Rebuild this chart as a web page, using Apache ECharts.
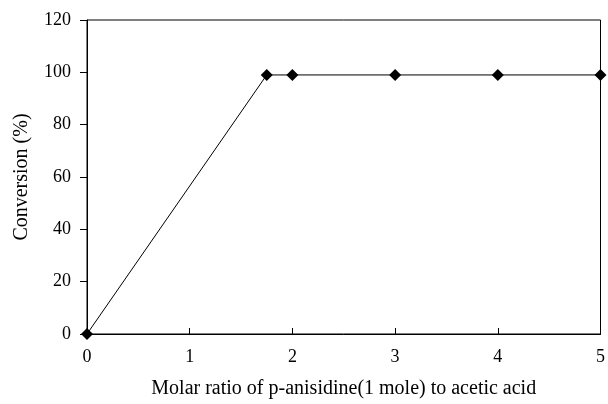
<!DOCTYPE html>
<html><head><meta charset="utf-8">
<script src="https://cdn.jsdelivr.net/npm/echarts@6/dist/echarts.min.js"></script>
<style>html,body{margin:0;padding:0;background:#fff}#c{width:608px;height:404px}</style>
</head><body><div id="c"></div>
<script>
const xValues = [0, 1.75, 2, 3, 4, 5];
const conversion = [0, 99, 99, 99, 99, 99];
const xTicks = [0, 1, 2, 3, 4, 5];
const yTicks = [0, 20, 40, 60, 80, 100, 120];
const xTitle = 'Molar ratio of p-anisidine(1 mole) to acetic acid';
const yTitle = 'Conversion (%)';

const font = 'Liberation Serif';
const chart = echarts.init(document.getElementById('c'), null, {renderer: 'canvas'});
chart.setOption({
  animation: false,
  backgroundColor: '#fff',
  grid: {left: 87, right: 4, top: 20, bottom: 65, show: true, borderColor: '#000', borderWidth: 1},
  xAxis: {
    type: 'value', min: xTicks[0], max: xTicks[xTicks.length - 1], interval: 1,
    name: xTitle, nameLocation: 'middle', nameGap: 45,
    nameTextStyle: {fontFamily: font, fontSize: 20, color: '#000'},
    axisLine: {lineStyle: {color: '#000', width: 1}},
    axisTick: {inside: true, length: 6, lineStyle: {color: '#000'}},
    axisLabel: {fontFamily: font, fontSize: 18, color: '#000', margin: 14},
    splitLine: {show: false}
  },
  yAxis: {
    type: 'value', min: yTicks[0], max: yTicks[yTicks.length - 1], interval: 20,
    name: yTitle, nameLocation: 'middle', nameGap: 55,
    nameTextStyle: {fontFamily: font, fontSize: 20, color: '#000'},
    axisLine: {show: true, lineStyle: {color: '#000', width: 1}},
    axisTick: {show: true, length: 7, lineStyle: {color: '#000'}},
    axisLabel: {fontFamily: font, fontSize: 18, color: '#000', margin: 16},
    splitLine: {show: false}
  },
  series: [{
    type: 'line',
    data: xValues.map((x, i) => [x, conversion[i]]),
    smooth: false,
    symbol: 'diamond', symbolSize: 12,
    itemStyle: {color: '#000'},
    lineStyle: {color: '#000', width: 1}
  }]
});
</script></body></html>
